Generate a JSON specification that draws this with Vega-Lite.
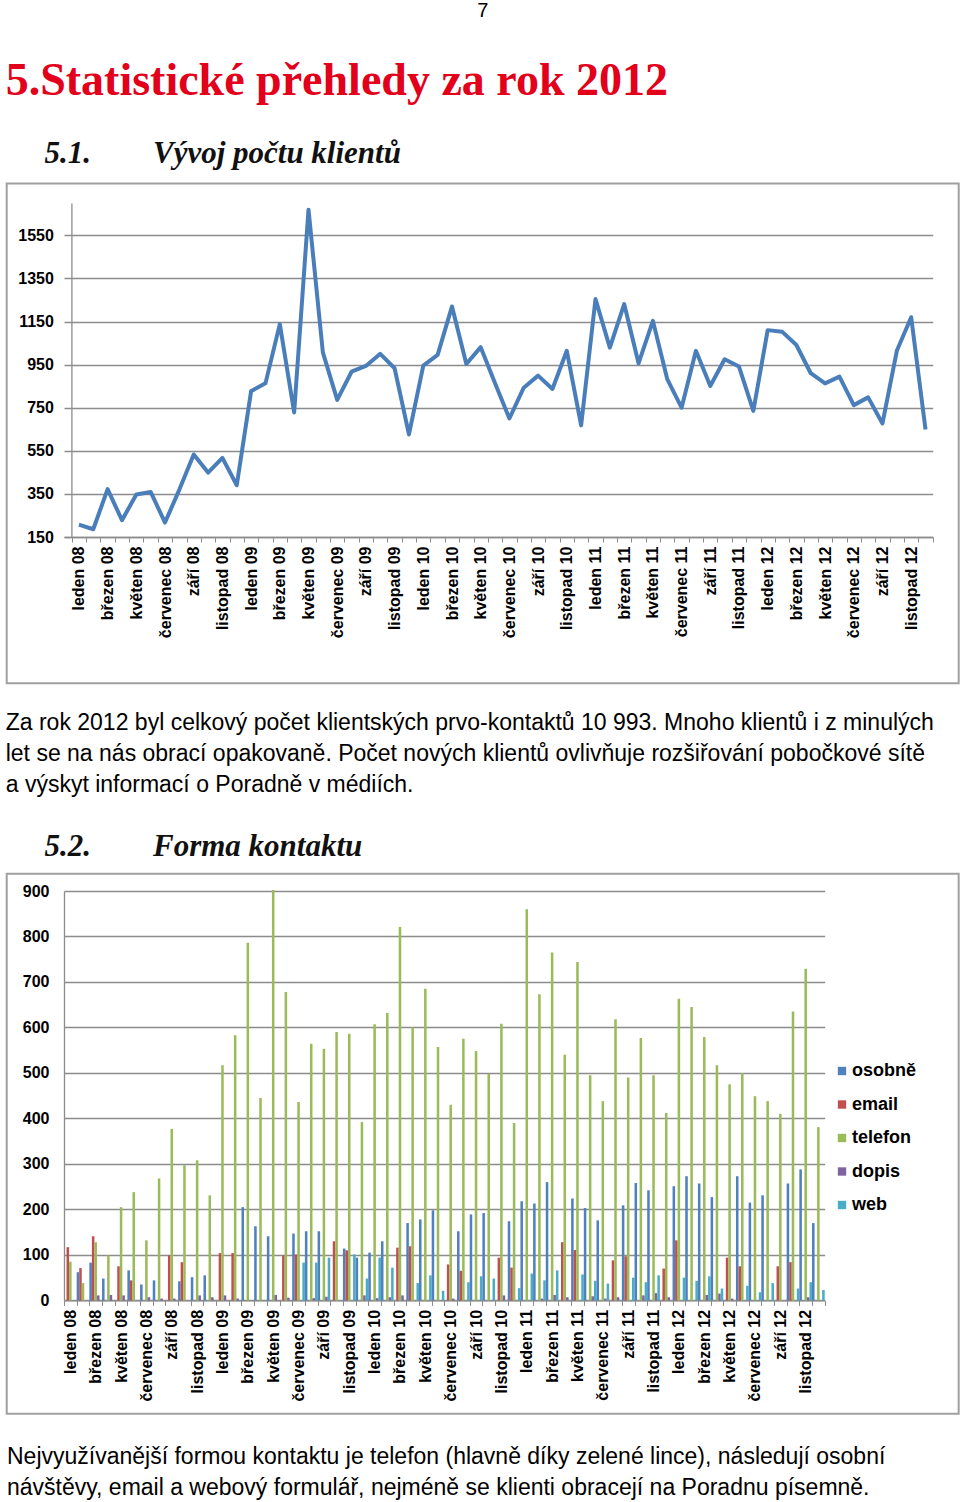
{
  "$schema": "https://vega.github.io/schema/vega-lite/v6.json",
  "background": "white",
  "padding": {"left": 5, "top": 1, "right": 0, "bottom": 0},
  "title": {"text": "7", "anchor": "middle", "font": "Liberation Sans", "fontSize": 20, "fontWeight": "normal", "color": "#000000", "offset": 37},
  "spacing": 26,
  "resolve": {"legend": {"color": "independent"}},
  "config": {"view": {"stroke": null}},
  "datasets": {
    "frame": [{"frame": "box"}],
    "klienti": [
      {"m": "leden 08", "n": 207}, {"m": "únor 08", "n": 186}, {"m": "březen 08", "n": 372}, {"m": "duben 08", "n": 228},
      {"m": "květen 08", "n": 347}, {"m": "červen 08", "n": 359}, {"m": "červenec 08", "n": 217}, {"m": "srpen 08", "n": 370},
      {"m": "září 08", "n": 533}, {"m": "říjen 08", "n": 449}, {"m": "listopad 08", "n": 517}, {"m": "prosinec 08", "n": 390},
      {"m": "leden 09", "n": 827}, {"m": "únor 09", "n": 863}, {"m": "březen 09", "n": 1138}, {"m": "duben 09", "n": 728},
      {"m": "květen 09", "n": 1669}, {"m": "červen 09", "n": 1007}, {"m": "červenec 09", "n": 786}, {"m": "srpen 09", "n": 917},
      {"m": "září 09", "n": 944}, {"m": "říjen 09", "n": 1000}, {"m": "listopad 09", "n": 933}, {"m": "prosinec 09", "n": 626},
      {"m": "leden 10", "n": 945}, {"m": "únor 10", "n": 995}, {"m": "březen 10", "n": 1220}, {"m": "duben 10", "n": 953},
      {"m": "květen 10", "n": 1031}, {"m": "červen 10", "n": 863}, {"m": "červenec 10", "n": 700}, {"m": "srpen 10", "n": 843},
      {"m": "září 10", "n": 899}, {"m": "říjen 10", "n": 837}, {"m": "listopad 10", "n": 1014}, {"m": "prosinec 10", "n": 668},
      {"m": "leden 11", "n": 1254}, {"m": "únor 11", "n": 1029}, {"m": "březen 11", "n": 1231}, {"m": "duben 11", "n": 956},
      {"m": "květen 11", "n": 1153}, {"m": "červen 11", "n": 883}, {"m": "červenec 11", "n": 750}, {"m": "srpen 11", "n": 1014},
      {"m": "září 11", "n": 851}, {"m": "říjen 11", "n": 975}, {"m": "listopad 11", "n": 941}, {"m": "prosinec 11", "n": 735},
      {"m": "leden 12", "n": 1110}, {"m": "únor 12", "n": 1103}, {"m": "březen 12", "n": 1041}, {"m": "duben 12", "n": 910},
      {"m": "květen 12", "n": 863}, {"m": "červen 12", "n": 894}, {"m": "červenec 12", "n": 762}, {"m": "srpen 12", "n": 798},
      {"m": "září 12", "n": 677}, {"m": "říjen 12", "n": 1014}, {"m": "listopad 12", "n": 1170}, {"m": "prosinec 12", "n": 649}
    ],
    "forma": [
      {"m": "leden 08", "k": "email", "v": 117}, {"m": "leden 08", "k": "telefon", "v": 85},
      {"m": "únor 08", "k": "osobně", "v": 62}, {"m": "únor 08", "k": "email", "v": 71}, {"m": "únor 08", "k": "telefon", "v": 38},
      {"m": "březen 08", "k": "osobně", "v": 83}, {"m": "březen 08", "k": "email", "v": 141}, {"m": "březen 08", "k": "telefon", "v": 128}, {"m": "březen 08", "k": "dopis", "v": 11},
      {"m": "duben 08", "k": "osobně", "v": 48}, {"m": "duben 08", "k": "telefon", "v": 99}, {"m": "duben 08", "k": "dopis", "v": 12},
      {"m": "květen 08", "k": "email", "v": 75}, {"m": "květen 08", "k": "telefon", "v": 205}, {"m": "květen 08", "k": "dopis", "v": 11},
      {"m": "červen 08", "k": "osobně", "v": 66}, {"m": "červen 08", "k": "email", "v": 44}, {"m": "červen 08", "k": "telefon", "v": 238},
      {"m": "červenec 08", "k": "osobně", "v": 35}, {"m": "červenec 08", "k": "telefon", "v": 132}, {"m": "červenec 08", "k": "dopis", "v": 7},
      {"m": "srpen 08", "k": "osobně", "v": 44}, {"m": "srpen 08", "k": "telefon", "v": 268}, {"m": "srpen 08", "k": "dopis", "v": 4},
      {"m": "září 08", "k": "email", "v": 99}, {"m": "září 08", "k": "telefon", "v": 377}, {"m": "září 08", "k": "dopis", "v": 4},
      {"m": "říjen 08", "k": "osobně", "v": 42}, {"m": "říjen 08", "k": "email", "v": 84}, {"m": "říjen 08", "k": "telefon", "v": 297},
      {"m": "listopad 08", "k": "osobně", "v": 51}, {"m": "listopad 08", "k": "telefon", "v": 308}, {"m": "listopad 08", "k": "dopis", "v": 11},
      {"m": "prosinec 08", "k": "osobně", "v": 55}, {"m": "prosinec 08", "k": "telefon", "v": 231}, {"m": "prosinec 08", "k": "dopis", "v": 7},
      {"m": "leden 09", "k": "email", "v": 104}, {"m": "leden 09", "k": "telefon", "v": 517}, {"m": "leden 09", "k": "dopis", "v": 11},
      {"m": "únor 09", "k": "email", "v": 104}, {"m": "únor 09", "k": "telefon", "v": 583}, {"m": "únor 09", "k": "dopis", "v": 4},
      {"m": "březen 09", "k": "osobně", "v": 205}, {"m": "březen 09", "k": "telefon", "v": 786},
      {"m": "duben 09", "k": "osobně", "v": 163}, {"m": "duben 09", "k": "telefon", "v": 445},
      {"m": "květen 09", "k": "osobně", "v": 141}, {"m": "květen 09", "k": "telefon", "v": 902}, {"m": "květen 09", "k": "dopis", "v": 12},
      {"m": "červen 09", "k": "email", "v": 99}, {"m": "červen 09", "k": "telefon", "v": 678}, {"m": "červen 09", "k": "dopis", "v": 6},
      {"m": "červenec 09", "k": "osobně", "v": 147}, {"m": "červenec 09", "k": "email", "v": 101}, {"m": "červenec 09", "k": "telefon", "v": 436}, {"m": "červenec 09", "k": "web", "v": 83},
      {"m": "srpen 09", "k": "osobně", "v": 152}, {"m": "srpen 09", "k": "telefon", "v": 564}, {"m": "srpen 09", "k": "dopis", "v": 5}, {"m": "srpen 09", "k": "web", "v": 83},
      {"m": "září 09", "k": "osobně", "v": 152}, {"m": "září 09", "k": "telefon", "v": 553}, {"m": "září 09", "k": "dopis", "v": 8}, {"m": "září 09", "k": "web", "v": 94},
      {"m": "říjen 09", "k": "email", "v": 130}, {"m": "říjen 09", "k": "telefon", "v": 590},
      {"m": "listopad 09", "k": "osobně", "v": 114}, {"m": "listopad 09", "k": "email", "v": 110}, {"m": "listopad 09", "k": "telefon", "v": 586}, {"m": "listopad 09", "k": "web", "v": 101},
      {"m": "prosinec 09", "k": "osobně", "v": 94}, {"m": "prosinec 09", "k": "telefon", "v": 392}, {"m": "prosinec 09", "k": "dopis", "v": 11}, {"m": "prosinec 09", "k": "web", "v": 48},
      {"m": "leden 10", "k": "osobně", "v": 105}, {"m": "leden 10", "k": "telefon", "v": 607}, {"m": "leden 10", "k": "dopis", "v": 5}, {"m": "leden 10", "k": "web", "v": 94},
      {"m": "únor 10", "k": "osobně", "v": 130}, {"m": "únor 10", "k": "telefon", "v": 632}, {"m": "únor 10", "k": "dopis", "v": 7}, {"m": "únor 10", "k": "web", "v": 72},
      {"m": "březen 10", "k": "email", "v": 116}, {"m": "březen 10", "k": "telefon", "v": 821}, {"m": "březen 10", "k": "dopis", "v": 11},
      {"m": "duben 10", "k": "osobně", "v": 170}, {"m": "duben 10", "k": "email", "v": 119}, {"m": "duben 10", "k": "telefon", "v": 600}, {"m": "duben 10", "k": "web", "v": 38},
      {"m": "květen 10", "k": "osobně", "v": 178}, {"m": "květen 10", "k": "telefon", "v": 685}, {"m": "květen 10", "k": "web", "v": 55},
      {"m": "červen 10", "k": "osobně", "v": 198}, {"m": "červen 10", "k": "telefon", "v": 557}, {"m": "červen 10", "k": "web", "v": 21},
      {"m": "červenec 10", "k": "email", "v": 79}, {"m": "červenec 10", "k": "telefon", "v": 430}, {"m": "červenec 10", "k": "dopis", "v": 4},
      {"m": "srpen 10", "k": "osobně", "v": 152}, {"m": "srpen 10", "k": "email", "v": 65}, {"m": "srpen 10", "k": "telefon", "v": 575}, {"m": "srpen 10", "k": "web", "v": 40},
      {"m": "září 10", "k": "osobně", "v": 189}, {"m": "září 10", "k": "telefon", "v": 548}, {"m": "září 10", "k": "web", "v": 53},
      {"m": "říjen 10", "k": "osobně", "v": 192}, {"m": "říjen 10", "k": "telefon", "v": 498}, {"m": "říjen 10", "k": "web", "v": 48},
      {"m": "listopad 10", "k": "email", "v": 94}, {"m": "listopad 10", "k": "telefon", "v": 608}, {"m": "listopad 10", "k": "dopis", "v": 11},
      {"m": "prosinec 10", "k": "osobně", "v": 174}, {"m": "prosinec 10", "k": "email", "v": 72}, {"m": "prosinec 10", "k": "telefon", "v": 390}, {"m": "prosinec 10", "k": "web", "v": 27},
      {"m": "leden 11", "k": "osobně", "v": 218}, {"m": "leden 11", "k": "telefon", "v": 860}, {"m": "leden 11", "k": "web", "v": 59},
      {"m": "únor 11", "k": "osobně", "v": 213}, {"m": "únor 11", "k": "telefon", "v": 673}, {"m": "únor 11", "k": "dopis", "v": 4}, {"m": "únor 11", "k": "web", "v": 44},
      {"m": "březen 11", "k": "osobně", "v": 260}, {"m": "březen 11", "k": "telefon", "v": 765}, {"m": "březen 11", "k": "dopis", "v": 12}, {"m": "březen 11", "k": "web", "v": 66},
      {"m": "duben 11", "k": "email", "v": 128}, {"m": "duben 11", "k": "telefon", "v": 540}, {"m": "duben 11", "k": "dopis", "v": 7},
      {"m": "květen 11", "k": "osobně", "v": 224}, {"m": "květen 11", "k": "email", "v": 111}, {"m": "květen 11", "k": "telefon", "v": 744}, {"m": "květen 11", "k": "web", "v": 57},
      {"m": "červen 11", "k": "osobně", "v": 203}, {"m": "červen 11", "k": "telefon", "v": 495}, {"m": "červen 11", "k": "dopis", "v": 9}, {"m": "červen 11", "k": "web", "v": 43},
      {"m": "červenec 11", "k": "osobně", "v": 176}, {"m": "červenec 11", "k": "telefon", "v": 438}, {"m": "červenec 11", "k": "dopis", "v": 4}, {"m": "červenec 11", "k": "web", "v": 37},
      {"m": "srpen 11", "k": "email", "v": 88}, {"m": "srpen 11", "k": "telefon", "v": 618}, {"m": "srpen 11", "k": "dopis", "v": 7},
      {"m": "září 11", "k": "osobně", "v": 209}, {"m": "září 11", "k": "email", "v": 97}, {"m": "září 11", "k": "telefon", "v": 490}, {"m": "září 11", "k": "web", "v": 50},
      {"m": "říjen 11", "k": "osobně", "v": 258}, {"m": "říjen 11", "k": "telefon", "v": 577}, {"m": "říjen 11", "k": "dopis", "v": 11}, {"m": "říjen 11", "k": "web", "v": 40},
      {"m": "listopad 11", "k": "osobně", "v": 242}, {"m": "listopad 11", "k": "telefon", "v": 495}, {"m": "listopad 11", "k": "dopis", "v": 16}, {"m": "listopad 11", "k": "web", "v": 55},
      {"m": "prosinec 11", "k": "email", "v": 70}, {"m": "prosinec 11", "k": "telefon", "v": 412}, {"m": "prosinec 11", "k": "dopis", "v": 7},
      {"m": "leden 12", "k": "osobně", "v": 251}, {"m": "leden 12", "k": "email", "v": 132}, {"m": "leden 12", "k": "telefon", "v": 663}, {"m": "leden 12", "k": "web", "v": 50},
      {"m": "únor 12", "k": "osobně", "v": 273}, {"m": "únor 12", "k": "telefon", "v": 645}, {"m": "únor 12", "k": "web", "v": 43},
      {"m": "březen 12", "k": "osobně", "v": 257}, {"m": "březen 12", "k": "telefon", "v": 579}, {"m": "březen 12", "k": "dopis", "v": 12}, {"m": "březen 12", "k": "web", "v": 53},
      {"m": "duben 12", "k": "osobně", "v": 227}, {"m": "duben 12", "k": "telefon", "v": 517}, {"m": "duben 12", "k": "dopis", "v": 15}, {"m": "duben 12", "k": "web", "v": 26},
      {"m": "květen 12", "k": "email", "v": 94}, {"m": "květen 12", "k": "telefon", "v": 475}, {"m": "květen 12", "k": "dopis", "v": 4},
      {"m": "červen 12", "k": "osobně", "v": 273}, {"m": "červen 12", "k": "email", "v": 75}, {"m": "červen 12", "k": "telefon", "v": 500}, {"m": "červen 12", "k": "web", "v": 32},
      {"m": "červenec 12", "k": "osobně", "v": 215}, {"m": "červenec 12", "k": "telefon", "v": 449}, {"m": "červenec 12", "k": "web", "v": 18},
      {"m": "srpen 12", "k": "osobně", "v": 231}, {"m": "srpen 12", "k": "telefon", "v": 438}, {"m": "srpen 12", "k": "web", "v": 38},
      {"m": "září 12", "k": "email", "v": 75}, {"m": "září 12", "k": "telefon", "v": 410},
      {"m": "říjen 12", "k": "osobně", "v": 257}, {"m": "říjen 12", "k": "email", "v": 84}, {"m": "říjen 12", "k": "telefon", "v": 635}, {"m": "říjen 12", "k": "web", "v": 26},
      {"m": "listopad 12", "k": "osobně", "v": 288}, {"m": "listopad 12", "k": "telefon", "v": 729}, {"m": "listopad 12", "k": "dopis", "v": 7}, {"m": "listopad 12", "k": "web", "v": 40},
      {"m": "prosinec 12", "k": "osobně", "v": 170}, {"m": "prosinec 12", "k": "telefon", "v": 381}, {"m": "prosinec 12", "k": "web", "v": 23}
    ]
  },
  "vconcat": [
    {
      "width": 868.7,
      "height": 334,
      "title": {
        "text": "5.Statistické přehledy za rok 2012",
        "subtitle": "\u200b\u00a0\u00a0\u00a0\u00a0\u00a05.1.\u00a0\u00a0\u00a0\u00a0\u00a0\u00a0\u00a0\u00a0Vývoj počtu klientů",
        "anchor": "start",
        "frame": "bounds",
        "font": "Liberation Serif",
        "fontSize": 46,
        "fontWeight": "bold",
        "color": "#e2001a",
        "subtitleFont": "Liberation Serif",
        "subtitleFontSize": 31,
        "subtitleFontWeight": "bold",
        "subtitleFontStyle": "italic",
        "subtitleColor": "#111111",
        "subtitlePadding": 34,
        "offset": 12
      },
      "layer": [
        {
          "data": {"name": "frame"},
          "mark": {"type": "rect", "fill": "white", "fillOpacity": 0, "stroke": "#a0a0a0", "strokeWidth": 2, "clip": false},
          "encoding": {
            "x": {"datum": -0.06596, "type": "quantitative", "scale": {"domain": [0, 1], "nice": false, "zero": false}, "axis": null},
            "x2": {"datum": 1.02993},
            "y": {"datum": -529, "type": "quantitative", "scale": {"domain": [150, 1700], "nice": false, "zero": false}},
            "y2": {"datum": 1791}
          }
        },
        {
          "data": {"name": "klienti"},
          "mark": {"type": "line", "color": "#4a7ebb", "strokeWidth": 4, "strokeJoin": "round"},
          "encoding": {
            "x": {
              "field": "m", "type": "ordinal", "sort": null,
              "scale": {"type": "band", "paddingInner": 0, "paddingOuter": 0.27, "align": 1},
              "axis": {
                "title": null, "labelAngle": -90, "labelFont": "Liberation Sans", "labelFontSize": 16, "labelFontWeight": "bold", "labelColor": "#000000",
                "labelExpr": "test(/^(únor|duben|červen |srpen|říjen|prosinec)/, datum.label) ? '' : datum.label",
                "tickBand": "extent", "tickSize": 5, "tickColor": "#8c8c8c", "domainColor": "#8c8c8c", "domainWidth": 1.3, "labelPadding": 4, "labelOverlap": false
              }
            },
            "y": {
              "field": "n", "type": "quantitative",
              "scale": {"domain": [150, 1700], "nice": false, "zero": false},
              "axis": {
                "title": null, "values": [150, 350, 550, 750, 950, 1150, 1350, 1550], "format": "d", "offset": -7.4,
                "labelFont": "Liberation Sans", "labelFontSize": 16, "labelFontWeight": "bold", "labelColor": "#000000", "labelPadding": 18,
                "ticks": false, "grid": true, "gridColor": "#8c8c8c", "gridWidth": 1.3, "domainColor": "#8c8c8c", "domainWidth": 1.3
              }
            }
          }
        }
      ],
      "resolve": {"scale": {"x": "independent"}}
    },
    {
      "width": 760.7,
      "height": 409.4,
      "title": {
        "text": [
          "Za rok 2012 byl celkový počet klientských prvo-kontaktů 10 993. Mnoho klientů i z minulých",
          "let se na nás obrací opakovaně. Počet nových klientů ovlivňuje rozšiřování pobočkové sítě",
          "a výskyt informací o Poradně v médiích."
        ],
        "anchor": "start",
        "frame": "bounds",
        "font": "Liberation Sans",
        "fontSize": 23,
        "fontWeight": "normal",
        "color": "#000000",
        "lineHeight": 31,
        "subtitle": "\u200b\u00a0\u00a0\u00a0\u00a0\u00a05.2.\u00a0\u00a0\u00a0\u00a0\u00a0\u00a0\u00a0\u00a0Forma kontaktu",
        "subtitleFont": "Liberation Serif",
        "subtitleFontSize": 31,
        "subtitleFontWeight": "bold",
        "subtitleFontStyle": "italic",
        "subtitleColor": "#111111",
        "subtitlePadding": 35,
        "offset": 11
      },
      "layer": [
        {
          "data": {"name": "frame"},
          "mark": {"type": "rect", "fill": "white", "fillOpacity": 0, "stroke": "#a0a0a0", "strokeWidth": 2, "clip": false},
          "encoding": {
            "x": {"datum": -0.0753, "type": "quantitative", "scale": {"domain": [0, 1], "nice": false, "zero": false}, "axis": null},
            "x2": {"datum": 1.1761},
            "y": {"datum": -249, "type": "quantitative", "scale": {"domain": [0, 900], "nice": false, "zero": false}},
            "y2": {"datum": 938}
          }
        },
        {
          "data": {"name": "forma"},
          "mark": {"type": "bar"},
          "encoding": {
            "x": {
              "field": "m", "type": "nominal", "sort": null,
              "scale": {"paddingInner": 0, "paddingOuter": 0},
              "axis": {
                "title": null, "labelAngle": -90, "labelFont": "Liberation Sans", "labelFontSize": 16, "labelFontWeight": "bold", "labelColor": "#000000",
                "labelExpr": "test(/^(únor|duben|červen |srpen|říjen|prosinec)/, datum.label) ? '' : datum.label",
                "tickBand": "extent", "tickSize": 5, "tickColor": "#8c8c8c", "domainColor": "#8c8c8c", "domainWidth": 1.3, "labelPadding": 4, "labelOverlap": false
              }
            },
            "xOffset": {
              "field": "k", "type": "nominal",
              "scale": {"domain": ["osobně", "email", "telefon", "dopis", "web"], "paddingInner": 0, "paddingOuter": 0}
            },
            "y": {
              "field": "v", "type": "quantitative",
              "scale": {"domain": [0, 900], "nice": false, "zero": true},
              "axis": {
                "title": null, "values": [0, 100, 200, 300, 400, 500, 600, 700, 800, 900], "format": "d",
                "labelFont": "Liberation Sans", "labelFontSize": 16, "labelFontWeight": "bold", "labelColor": "#000000", "labelPadding": 15,
                "ticks": false, "grid": true, "gridColor": "#8c8c8c", "gridWidth": 1.3, "domainColor": "#8c8c8c", "domainWidth": 1.3
              }
            },
            "color": {
              "field": "k", "type": "nominal",
              "scale": {"domain": ["osobně", "email", "telefon", "dopis", "web"], "range": ["#4f81bd", "#c0504d", "#9bbb59", "#8064a2", "#4bacc6"]},
              "legend": {
                "title": null, "orient": "none", "legendX": 769, "legendY": 171,
                "symbolType": "square", "symbolSize": 70, "labelFont": "Liberation Sans", "labelFontSize": 18, "labelFontWeight": "bold", "labelColor": "#000000",
                "rowPadding": 15.5, "labelOffset": 1
              }
            }
          }
        }
      ],
      "resolve": {"scale": {"x": "independent"}}
    },
    {
      "data": {"values": []},
      "mark": "point",
      "width": 880,
      "height": 1,
      "title": {
        "text": [
          "Nejvyužívanější formou kontaktu je telefon (hlavně díky zelené lince), následují osobní",
          "návštěvy, email a webový formulář, nejméně se klienti obracejí na Poradnu písemně."
        ],
        "orient": "bottom",
        "anchor": "start",
        "frame": "group",
        "font": "Liberation Sans",
        "fontSize": 23,
        "fontWeight": "normal",
        "color": "#000000",
        "lineHeight": 31,
        "dx": -57,
        "offset": 4
      }
    }
  ]
}
